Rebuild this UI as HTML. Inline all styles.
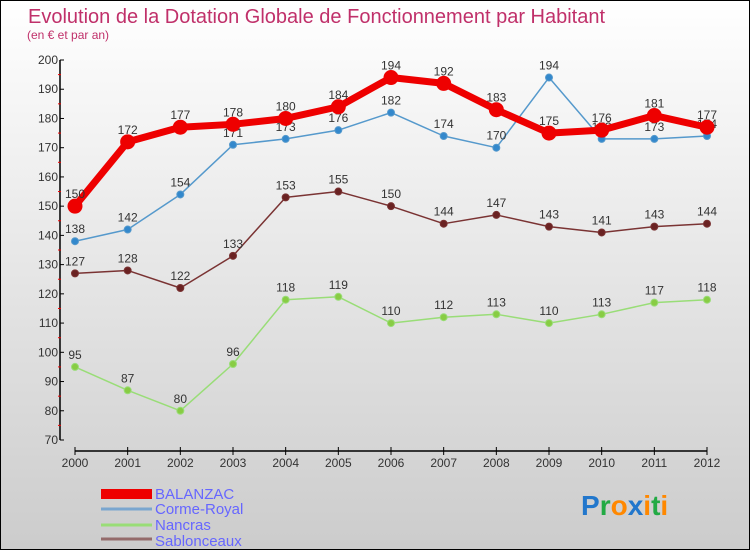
<!DOCTYPE html>
<html><head><meta charset="utf-8"><style>
html,body{margin:0;padding:0}
body{width:750px;height:550px;overflow:hidden;font-family:"Liberation Sans",sans-serif}
#wrap{position:relative;width:748px;height:548px;border:1px solid #000;background:linear-gradient(#ffffff,#cccccc)}
svg text{font-family:"Liberation Sans",sans-serif}
</style></head><body>
<div id="wrap">
<svg id="chart" width="748" height="548">
<text x="27" y="22" font-size="20" fill="#c0306a">Evolution de la Dotation Globale de Fonctionnement par Habitant</text>
<text x="26" y="38" font-size="12" fill="#c0306a">(en € et par an)</text>
<g id="axes"></g><g id="series"></g>
<g>
<rect x="100" y="488" width="51" height="10" fill="#e00"/>
<text x="154" y="498" font-size="15" fill="#6666ff">BALANZAC</text>
<line x1="100" y1="508" x2="151" y2="508" stroke="#7aa6cf" stroke-width="3"/>
<text x="154" y="513" font-size="15" fill="#6666ff">Corme-Royal</text>
<line x1="100" y1="524" x2="151" y2="524" stroke="#99dd77" stroke-width="3"/>
<text x="154" y="529" font-size="15" fill="#6666ff">Nancras</text>
<line x1="100" y1="538" x2="151" y2="538" stroke="#946b6b" stroke-width="3"/>
<text x="154" y="545" font-size="15" fill="#6666ff">Sablonceaux</text>
</g>
<text x="580" y="514" font-size="28" font-weight="bold"><tspan fill="#2277cc">P</tspan><tspan fill="#22aa44">r</tspan><tspan fill="#ff8800">o</tspan><tspan fill="#2277cc">x</tspan><tspan fill="#ff8800">i</tspan><tspan fill="#22aa44">t</tspan><tspan fill="#ff8800">i</tspan></text>
</svg></div>
<script>
const years=[2000,2001,2002,2003,2004,2005,2006,2007,2008,2009,2010,2011,2012];
const balanzac=[150,172,177,178,180,184,194,192,183,175,176,181,177];
const corme=[138,142,154,171,173,176,182,174,170,194,173,173,174];
const nancras=[95,87,80,96,118,119,110,112,113,110,113,117,118];
const sablon=[127,128,122,133,153,155,150,144,147,143,141,143,144];
const yTicks=[70,80,90,100,110,120,130,140,150,160,170,180,190,200];
const NS='http://www.w3.org/2000/svg';
const xs=i=>74+i*(632/12);
const ys=v=>439-(v-70)*(380/130);
function mk(tag,attrs,parent){const e=document.createElementNS(NS,tag);for(const k in attrs)e.setAttribute(k,attrs[k]);parent.appendChild(e);return e;}
const ax=document.getElementById('axes');
let l=mk('line',{x1:59,y1:ys(200),x2:59,y2:ys(70),stroke:'#000','stroke-width':1.5},ax);


yTicks.forEach(t=>{
 mk('line',{x1:59,y1:ys(t),x2:63,y2:ys(t),stroke:'#000'},ax);
 if(t<200) mk('line',{x1:57,y1:ys(t+5),x2:60,y2:ys(t+5),stroke:'#e00'},ax);
 const tx=mk('text',{x:57,y:ys(t)+4,'font-size':12,fill:'#333','text-anchor':'end'},ax);tx.textContent=t;
 
 
});
l=mk('line',{x1:xs(0),y1:450,x2:xs(12),y2:450,stroke:'#000','stroke-width':1.5},ax);


years.forEach((y,i)=>{
 mk('line',{x1:xs(i),y1:446,x2:xs(i),y2:454,stroke:'#000'},ax);
 const tx=mk('text',{x:xs(i),y:466,'font-size':12,fill:'#333','text-anchor':'middle'},ax);tx.textContent=y;
 
 
});
const sg=document.getElementById('series');
function draw(data,color,w,r,name,dot){
 const g=mk('g',{},sg);
 
 
 mk('polyline',{points:data.map((v,i)=>xs(i)+','+ys(v)).join(' '),fill:'none',stroke:color,'stroke-width':w,'stroke-linejoin':'round'},g);
 data.forEach((v,i)=>{
  const c=mk('circle',{cx:xs(i),cy:ys(v),r:r,fill:dot,stroke:color,'stroke-width':1},g);
  
  
  const t=mk('text',{x:xs(i),y:ys(v)-8,'font-size':12,fill:'#333','text-anchor':'middle'},g);t.textContent=v;
  
  
 });
}
draw(nancras,'#99dd77',1.5,3.5,'nancras','#88cc44');
draw(sablon,'#7a3333',1.5,3.5,'sablonceaux','#6a2222');
draw(corme,'#5599cc',1.5,3.5,'corme-royal','#3388cc');
draw(balanzac,'#ee0000',7,7,'balanzac','#ee0000');
</script>
</body></html>
